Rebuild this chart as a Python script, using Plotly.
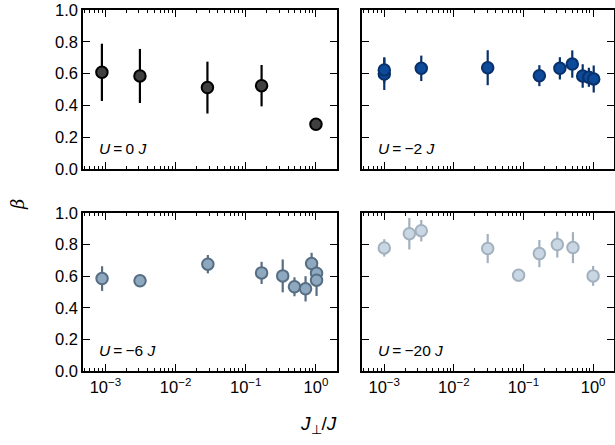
import plotly.graph_objects as go

# ---- data ----
x_u0 = [0.00089, 0.0031, 0.0284, 0.168, 1.0]
y_u0 = [0.608, 0.585, 0.512, 0.524, 0.281]
e_u0 = [0.18, 0.17, 0.163, 0.13, 0.03]

x_u2 = [0.001, 0.001, 0.0034, 0.0306, 0.169, 0.333, 0.502, 0.708, 0.869, 1.02]
y_u2 = [0.597, 0.623, 0.633, 0.637, 0.587, 0.633, 0.660, 0.585, 0.577, 0.566]
e_u2 = [0.10, 0.08, 0.08, 0.11, 0.066, 0.07, 0.086, 0.074, 0.06, 0.085]

x_u6 = [0.000895, 0.00311, 0.0288, 0.168, 0.336, 0.494, 0.711, 0.867, 1.02, 1.02]
y_u6 = [0.585, 0.571, 0.676, 0.621, 0.602, 0.533, 0.520, 0.680, 0.619, 0.575]
e_u6 = [0.078, 0.035, 0.058, 0.07, 0.104, 0.06, 0.08, 0.068, 0.05, 0.10]

x_u20 = [0.001, 0.00229, 0.0034, 0.0306, 0.085, 0.169, 0.306, 0.513, 1.0]
y_u20 = [0.779, 0.869, 0.888, 0.775, 0.606, 0.743, 0.800, 0.781, 0.602]
e_u20 = [0.055, 0.10, 0.068, 0.092, 0.015, 0.086, 0.082, 0.098, 0.063]

labels = ["<i>U</i>\u2009=\u20090 <i>J</i>", "<i>U</i>\u2009=\u2009\u22122 <i>J</i>",
          "<i>U</i>\u2009=\u2009\u22126 <i>J</i>", "<i>U</i>\u2009=\u2009\u221220 <i>J</i>"]
fills = ["#404040", "#0d4a9a", "#8ea8c0", "#c9d6e3"]
edges = ["#000000", "#08306b", "#566d82", "#a3b1bf"]

x_tickvals = [1e-3, 1e-2, 1e-1, 1]
x_ticktext = ["10<sup>\u22123</sup>", "10<sup>\u22122</sup>", "10<sup>\u22121</sup>", "10<sup>0</sup>"]
y_tickvals = [0.0, 0.2, 0.4, 0.6, 0.8, 1.0]

W, H = 615, 445
FONT = "Liberation Sans, Arial, sans-serif"

series = [(x_u0, y_u0, e_u0), (x_u2, y_u2, e_u2), (x_u6, y_u6, e_u6), (x_u20, y_u20, e_u20)]

# panel pixel boxes (left, right, top, bottom)
boxes = [(83, 337, 10, 169), (362, 614, 10, 169), (83, 337, 213, 371), (362, 614, 213, 371)]

minor_vals = [m * 10 ** d for d in range(-4, 1) for m in range(2, 10)]

fig = go.Figure()
layout = {}
for i, ((xs, ys, es), (l, r, t, b)) in enumerate(zip(series, boxes)):
    n = i + 1
    xa = "x" if n == 1 else f"x{n}"
    ya = "y" if n == 1 else f"y{n}"
    fig.add_trace(go.Scatter(
        x=xs, y=ys, mode="markers", xaxis=xa, yaxis=ya,
        error_y=dict(type="data", array=es, visible=True, color=edges[i], thickness=2.2, width=0),
        marker=dict(size=11.5, color=fills[i], line=dict(color=edges[i], width=2)),
        showlegend=False))
    common = dict(showline=True, linecolor="black", linewidth=1.5, mirror="allticks",
                  ticks="inside", tickcolor="black", tickwidth=1.3, showgrid=False, zeroline=False,
                  automargin=False,
                  tickfont=dict(family=FONT, size=16.5, color="black"))
    layout["xaxis" if n == 1 else f"xaxis{n}"] = dict(
        type="log", range=[-3.32, 0.30], domain=[l / W, r / W], anchor=ya,
        tickmode="array", tickvals=x_tickvals, ticktext=x_ticktext, ticklen=7,
        showticklabels=(n >= 3),
        minor=dict(ticks="inside", ticklen=3.5, tickmode="array", tickvals=minor_vals,
                   tickcolor="black", tickwidth=1, showgrid=False),
        **common)
    layout["yaxis" if n == 1 else f"yaxis{n}"] = dict(
        range=[0, 1], domain=[1 - b / H, 1 - t / H], anchor=xa,
        tickmode="array", tickvals=y_tickvals, tickformat=".1f", ticklen=7,
        showticklabels=(n in (1, 3)),
        **common)

annotations = []
for i, lab in enumerate(labels):
    n = i + 1
    xa = "x" if n == 1 else f"x{n}"
    ya = "y" if n == 1 else f"y{n}"
    annotations.append(dict(text=lab, xref=f"{xa} domain", yref=f"{ya} domain",
                            x=0.055, y=0.13, xanchor="left", yanchor="middle",
                            showarrow=False, font=dict(family=FONT, size=15.5, color="black")))
annotations.append(dict(text="<i>\u03b2</i>", xref="paper", yref="paper", x=17 / W, y=1 - 205 / H,
                        textangle=-90, showarrow=False, xanchor="center", yanchor="middle",
                        font=dict(family="DejaVu Serif, serif", size=18, color="black")))
annotations.append(dict(text="<i>J</i><sub>\u22a5</sub>/<i>J</i>", xref="paper", yref="paper",
                        x=318 / W, y=1 - 425 / H, showarrow=False, xanchor="center", yanchor="middle",
                        font=dict(family=FONT, size=19, color="black")))

fig.update_layout(template="none", width=W, height=H, margin=dict(l=0, r=0, t=0, b=0, pad=0),
                  paper_bgcolor="white", plot_bgcolor="white",
                  annotations=annotations, **layout)
fig.write_html("out.html", post_script="document.body.style.margin='0';",
               config={"displayModeBar": False})
